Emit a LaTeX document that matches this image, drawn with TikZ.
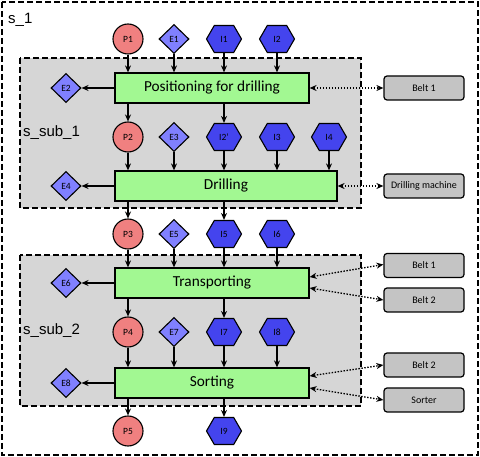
\documentclass[tikz,border=0pt]{standalone}
\usepackage{fontspec}
\setmainfont{Carlito}
\newfontfamily\labelfont{Liberation Sans}
\usetikzlibrary{shapes.geometric,shapes.symbols,arrows.meta}
\definecolor{pcol}{HTML}{F08080}
\definecolor{ecol}{HTML}{8080FF}
\definecolor{icol}{HTML}{4444EE}
\definecolor{gcol}{HTML}{A2F892}
\definecolor{bcol}{HTML}{C4C4C4}
\definecolor{subcol}{HTML}{D6D6D6}
\begin{document}
\begin{tikzpicture}[x=1pt,y=-1pt,
  frame/.style={dashed,dash pattern=on 6pt off 3pt,line width=1.2pt},
  subframe/.style={frame,fill=subcol},
  proc/.style={draw,fill=gcol,line width=1.2pt,minimum height=30pt,inner sep=0pt,font=\fontsize{15.3}{17}\selectfont},
  pplace/.style={circle,draw,fill=pcol,line width=1.1pt,minimum size=30pt,inner sep=0pt,font=\fontsize{9.5}{11}\selectfont},
  eplace/.style={diamond,draw,fill=ecol,line width=1.1pt,minimum width=30pt,minimum height=29pt,inner sep=0pt,font=\fontsize{9.5}{11}\selectfont},
  iplace/.style={signal,signal to=east and west,signal pointer angle=120,draw,fill=icol,line width=1.1pt,minimum width=35pt,minimum height=27pt,inner sep=0pt,font=\fontsize{9.5}{11}\selectfont},
  res/.style={draw,fill=bcol,rounded corners=3pt,line width=1.2pt,minimum width=80pt,minimum height=24pt,inner sep=0pt,font=\fontsize{10}{12}\selectfont},
  arr/.style={-{Stealth[length=7pt,width=6pt]},line width=1.2pt},
  darr/.style={{Stealth[length=7pt,width=6pt]}-{Stealth[length=7pt,width=6pt]},line width=1.3pt,dash pattern=on 1.5pt off 1.5pt},
  lbl/.style={font=\labelfont\fontsize{15}{17}\selectfont,anchor=west,inner sep=0pt}]
\useasboundingbox (0,0) rectangle (480,457);
\draw[frame] (2,2) rectangle (478,455);
\draw[subframe] (20,58) rectangle (361,208);
\draw[subframe] (20,255) rectangle (361,406);
\node[lbl] (s1) at (8,20) {s\_1};
\node[lbl] (ss1) at (23,133) {s\_sub\_1};
\node[lbl] (ss2) at (23,331) {s\_sub\_2};
% processes
\node[proc,minimum width=194pt] (pos) at (212,88) {Positioning for drilling};
\node[proc,minimum width=222pt] (dri) at (226,186) {Drilling};
\node[proc,minimum width=194pt] (tra) at (212,283) {Transporting};
\node[proc,minimum width=194pt] (sor) at (212,383) {Sorting};
% places
\node[pplace] (p1) at (128,39) {P1};
\node[pplace] (p2) at (128,137) {P2};
\node[pplace] (p3) at (128,234) {P3};
\node[pplace] (p4) at (128,332) {P4};
\node[pplace] (p5) at (128,431) {P5};
\node[eplace] (e1) at (174,39) {E1};
\node[eplace] (e2) at (66,88) {E2};
\node[eplace] (e3) at (174,137) {E3};
\node[eplace] (e4) at (66,186) {E4};
\node[eplace] (e5) at (174,234) {E5};
\node[eplace] (e6) at (66,283) {E6};
\node[eplace] (e7) at (174,332) {E7};
\node[eplace] (e8) at (66,383) {E8};
\node[iplace] (i1) at (224,39) {I1};
\node[iplace] (i2) at (277,39) {I2};
\node[iplace] (i2p) at (224,137) {I2’};
\node[iplace] (i3) at (277,137) {I3};
\node[iplace] (i4) at (329,137) {I4};
\node[iplace] (i5) at (224,234) {I5};
\node[iplace] (i6) at (277,234) {I6};
\node[iplace] (i7) at (224,332) {I7};
\node[iplace] (i8) at (277,332) {I8};
\node[iplace] (i9) at (224,431) {I9};
% resources
\node[res] (b1a) at (424,88) {Belt 1};
\node[res] (dm) at (424,186) {Drilling machine};
\node[res] (b1b) at (424,265.5) {Belt 1};
\node[res] (b2a) at (424,300) {Belt 2};
\node[res] (b2b) at (424,365) {Belt 2};
\node[res] (srt) at (424,400) {Sorter};
% arcs: positioning
\foreach \n in {p1,e1,i1,i2} \draw[arr] (\n.south) -- (\n.south |- pos.north);
\draw[arr] (pos.west) -- (e2.east);
\foreach \n in {p2,i2p} \draw[arr] (\n |- pos.south) -- (\n.north);
% drilling
\foreach \n in {p2,e3,i2p,i3,i4} \draw[arr] (\n.south) -- (\n.south |- dri.north);
\draw[arr] (dri.west) -- (e4.east);
\foreach \n in {p3,i5} \draw[arr] (\n |- dri.south) -- (\n.north);
% transporting
\foreach \n in {p3,e5,i5,i6} \draw[arr] (\n.south) -- (\n.south |- tra.north);
\draw[arr] (tra.west) -- (e6.east);
\foreach \n in {p4,i7} \draw[arr] (\n |- tra.south) -- (\n.north);
% sorting
\foreach \n in {p4,e7,i7,i8} \draw[arr] (\n.south) -- (\n.south |- sor.north);
\draw[arr] (sor.west) -- (e8.east);
\foreach \n in {p5,i9} \draw[arr] (\n |- sor.south) -- (\n.north);
% resource links
\draw[darr] (pos.east) -- (b1a.west);
\draw[darr] (dri.east) -- (dm.west);
\draw[darr] ([yshift=6pt]tra.east) -- ([yshift=1pt]b1b.west);
\draw[darr] ([yshift=-5pt]tra.east) -- (b2a.west);
\draw[darr] ([yshift=7pt]sor.east) -- (b2b.west);
\draw[darr] ([yshift=-5pt]sor.east) -- (srt.west);
\end{tikzpicture}
\end{document}
